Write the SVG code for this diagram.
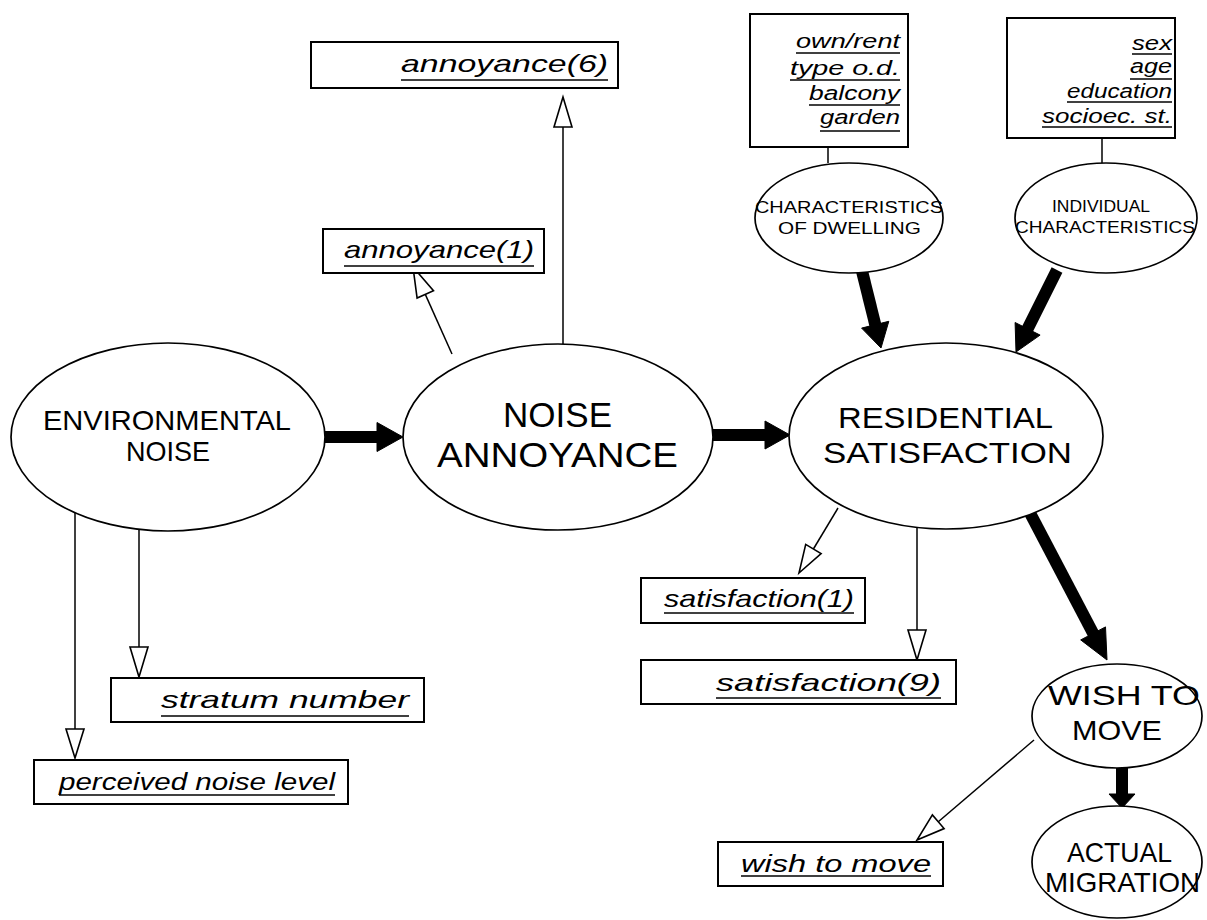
<svg xmlns="http://www.w3.org/2000/svg" width="1207" height="920" viewBox="0 0 1207 920">
<style>
.bg{fill:#fff}
.node{fill:#fff;stroke:#000;stroke-width:1.7}
.box{fill:#fff;stroke:#000;stroke-width:2}
.cap{font-family:"Liberation Sans",Arial,sans-serif;fill:#000}
.lab{font-family:"Liberation Sans",Arial,sans-serif;font-style:italic;font-size:24px;fill:#000}
.small{font-family:"Liberation Sans",Arial,sans-serif;font-style:italic;font-size:20px;fill:#000}
.ul{stroke:#000;stroke-width:1.6}
.thin{stroke:#000;stroke-width:1.5;fill:none}
.thick{stroke:#000;stroke-width:12;fill:none}
.hollow{fill:#fff;stroke:#000;stroke-width:1.6;stroke-linejoin:miter}
.solid{fill:#000;stroke:#000;stroke-width:1}
</style>
<rect class="bg" x="0" y="0" width="1207" height="920"/>

<g id="connectors">
  <!-- thick causal arrows -->
  <line class="thick" x1="325" y1="437" x2="379" y2="437"/>
  <polygon class="solid" points="403,437 377,422.5 377,451.5"/>
  <line class="thick" x1="713" y1="435" x2="767" y2="435"/>
  <polygon class="solid" points="790,435 765,421 765,449"/>
  <line class="thick" x1="861" y1="267" x2="875.6" y2="326"/>
  <polygon class="solid" points="881,348 888.8,321.3 861.6,328.1"/>
  <line class="thick" x1="1057" y1="270" x2="1026.5" y2="331"/>
  <polygon class="solid" points="1016,352 1040.1,335.1 1015.1,322.5"/>
  <line class="thick" x1="1030" y1="513" x2="1094" y2="635"/>
  <polygon class="solid" points="1107,660 1105.5,626.9 1080.7,639.9"/>
  <line class="thick" x1="1122" y1="768" x2="1122" y2="796"/>
  <polygon class="solid" points="1122,808 1109,794 1135,794"/>

  <!-- thin measurement arrows -->
  <line class="thin" x1="563" y1="345" x2="563" y2="127"/>
  <polygon class="hollow" points="563,97 554,127 572,127"/>
  <line class="thin" x1="452" y1="354" x2="425.3" y2="294.4"/>
  <polygon class="hollow" points="413,267 433.5,290.7 417.1,298.1"/>
  <line class="thin" x1="139" y1="529" x2="139" y2="647"/>
  <polygon class="hollow" points="139,677 130,647 148,647"/>
  <line class="thin" x1="75" y1="513" x2="75" y2="729"/>
  <polygon class="hollow" points="75,758 66,729 84,729"/>
  <line class="thin" x1="838" y1="508" x2="813.4" y2="549"/>
  <polygon class="hollow" points="799,573 821.1,553.6 805.7,544.4"/>
  <line class="thin" x1="917" y1="528" x2="917" y2="630"/>
  <polygon class="hollow" points="917,660 908,630 926,630"/>
  <line class="thin" x1="1034" y1="740" x2="938.3" y2="821.8"/>
  <polygon class="hollow" points="917,840 944.1,828.6 932.4,814.9"/>

  <!-- characteristic boxes to ellipses -->
  <line class="thin" x1="828" y1="147" x2="828" y2="163"/>
  <line class="thin" x1="1102" y1="138" x2="1102" y2="163"/>
</g>

<g id="environmental-noise">
  <ellipse class="node" cx="168" cy="437" rx="157" ry="94"/>
  <text class="cap" font-size="28" x="43" y="430" textLength="248" lengthAdjust="spacingAndGlyphs">ENVIRONMENTAL</text>
  <text class="cap" font-size="28" x="126" y="461" textLength="84" lengthAdjust="spacingAndGlyphs">NOISE</text>
</g>

<g id="noise-annoyance">
  <ellipse class="node" cx="558" cy="437" rx="155" ry="93"/>
  <text class="cap" font-size="35" x="503" y="427" textLength="109" lengthAdjust="spacingAndGlyphs">NOISE</text>
  <text class="cap" font-size="35" x="437" y="467" textLength="241" lengthAdjust="spacingAndGlyphs">ANNOYANCE</text>
</g>

<g id="residential-satisfaction">
  <ellipse class="node" cx="946" cy="436" rx="157" ry="93"/>
  <text class="cap" font-size="30" x="838" y="428" textLength="215" lengthAdjust="spacingAndGlyphs">RESIDENTIAL</text>
  <text class="cap" font-size="30" x="823" y="463" textLength="249" lengthAdjust="spacingAndGlyphs">SATISFACTION</text>
</g>

<g id="characteristics-of-dwelling">
  <ellipse class="node" cx="849" cy="218" rx="94" ry="55"/>
  <text class="cap" font-size="16" x="755" y="213" textLength="188" lengthAdjust="spacingAndGlyphs">CHARACTERISTICS</text>
  <text class="cap" font-size="16" x="778" y="234" textLength="143" lengthAdjust="spacingAndGlyphs">OF DWELLING</text>
</g>

<g id="individual-characteristics">
  <ellipse class="node" cx="1106" cy="218" rx="91" ry="55"/>
  <text class="cap" font-size="16" x="1052" y="212" textLength="98" lengthAdjust="spacingAndGlyphs">INDIVIDUAL</text>
  <text class="cap" font-size="16" x="1015" y="233" textLength="180" lengthAdjust="spacingAndGlyphs">CHARACTERISTICS</text>
</g>

<g id="wish-to-move">
  <ellipse class="node" cx="1117" cy="716" rx="85" ry="52"/>
  <text class="cap" font-size="28" x="1048" y="705" textLength="152" lengthAdjust="spacingAndGlyphs">WISH TO</text>
  <text class="cap" font-size="28" x="1072" y="740" textLength="90" lengthAdjust="spacingAndGlyphs">MOVE</text>
</g>

<g id="actual-migration">
  <ellipse class="node" cx="1117" cy="862" rx="85" ry="56"/>
  <text class="cap" font-size="28" x="1067" y="862" textLength="105" lengthAdjust="spacingAndGlyphs">ACTUAL</text>
  <text class="cap" font-size="28" x="1045" y="892" textLength="155" lengthAdjust="spacingAndGlyphs">MIGRATION</text>
</g>

<g id="box-annoyance6">
  <rect class="box" x="311" y="42" width="307" height="46"/>
  <text class="lab" x="401" y="72" textLength="207" lengthAdjust="spacingAndGlyphs">annoyance(6)</text>
  <line class="ul" x1="401" y1="80" x2="608" y2="80"/>
</g>

<g id="box-annoyance1">
  <rect class="box" x="323" y="229" width="221" height="44"/>
  <text class="lab" x="344" y="258" textLength="190" lengthAdjust="spacingAndGlyphs">annoyance(1)</text>
  <line class="ul" x1="344" y1="266" x2="534" y2="266"/>
</g>

<g id="box-dwelling-vars">
  <rect class="box" x="750" y="14" width="158" height="133"/>
  <text class="small" x="796" y="48" textLength="104" lengthAdjust="spacingAndGlyphs">own/rent</text>
  <line class="ul" x1="796" y1="53" x2="900" y2="53"/>
  <text class="small" x="790" y="75" textLength="110" lengthAdjust="spacingAndGlyphs">type  o.d.</text>
  <line class="ul" x1="790" y1="80" x2="900" y2="80"/>
  <text class="small" x="809" y="100" textLength="91" lengthAdjust="spacingAndGlyphs">balcony</text>
  <line class="ul" x1="809" y1="105" x2="900" y2="105"/>
  <text class="small" x="820" y="124" textLength="80" lengthAdjust="spacingAndGlyphs">garden</text>
  <line class="ul" x1="820" y1="131" x2="900" y2="131"/>
</g>

<g id="box-individual-vars">
  <rect class="box" x="1007" y="18" width="168" height="120"/>
  <text class="small" x="1132" y="50" textLength="40" lengthAdjust="spacingAndGlyphs">sex</text>
  <line class="ul" x1="1132" y1="54" x2="1172" y2="54"/>
  <text class="small" x="1130" y="73" textLength="42" lengthAdjust="spacingAndGlyphs">age</text>
  <line class="ul" x1="1130" y1="79" x2="1172" y2="79"/>
  <text class="small" x="1067" y="98" textLength="105" lengthAdjust="spacingAndGlyphs">education</text>
  <line class="ul" x1="1067" y1="102" x2="1172" y2="102"/>
  <text class="small" x="1042" y="123" textLength="130" lengthAdjust="spacingAndGlyphs">socioec.  st.</text>
  <line class="ul" x1="1042" y1="127" x2="1172" y2="127"/>
</g>

<g id="box-satisfaction1">
  <rect class="box" x="641" y="578" width="224" height="45"/>
  <text class="lab" x="664" y="607" textLength="190" lengthAdjust="spacingAndGlyphs">satisfaction(1)</text>
  <line class="ul" x1="664" y1="613" x2="854" y2="613"/>
</g>

<g id="box-satisfaction9">
  <rect class="box" x="641" y="660" width="315" height="44"/>
  <text class="lab" x="716" y="691" textLength="225" lengthAdjust="spacingAndGlyphs">satisfaction(9)</text>
  <line class="ul" x1="716" y1="698" x2="941" y2="698"/>
</g>

<g id="box-wish-to-move">
  <rect class="box" x="718" y="842" width="225" height="44"/>
  <text class="lab" x="741" y="872" textLength="190" lengthAdjust="spacingAndGlyphs">wish  to  move</text>
  <line class="ul" x1="741" y1="876" x2="931" y2="876"/>
</g>

<g id="box-stratum-number">
  <rect class="box" x="111" y="678" width="313" height="44"/>
  <text class="lab" x="161" y="708" textLength="248" lengthAdjust="spacingAndGlyphs">stratum  number</text>
  <line class="ul" x1="161" y1="716" x2="409" y2="716"/>
</g>

<g id="box-perceived-noise-level">
  <rect class="box" x="34" y="760" width="314" height="44"/>
  <text class="lab" x="59" y="790" textLength="276" lengthAdjust="spacingAndGlyphs">perceived  noise  level</text>
  <line class="ul" x1="59" y1="795" x2="335" y2="795"/>
</g>
</svg>
